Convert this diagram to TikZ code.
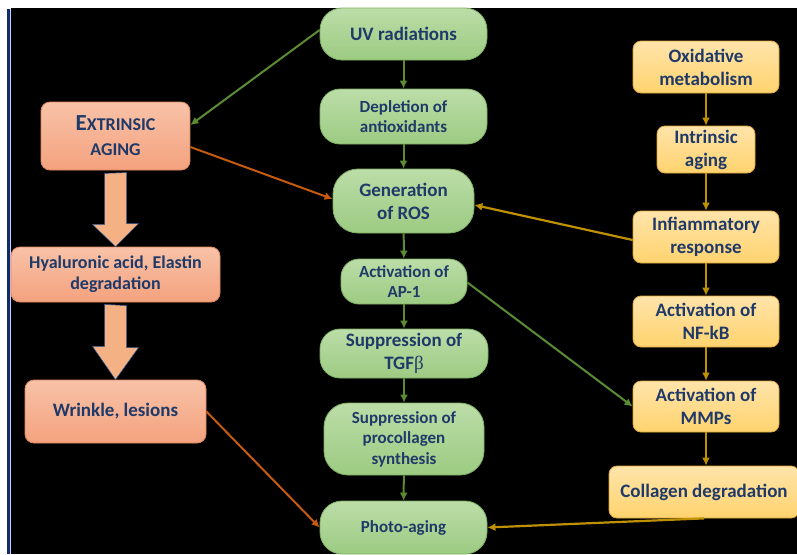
\documentclass[tikz,border=0pt]{standalone}
\usepackage{fontspec}
\setmainfont{Carlito}
\newfontfamily\greekfont{Liberation Serif}
\usetikzlibrary{arrows.meta}

\definecolor{navy}{HTML}{1F3A68}
\definecolor{greenT}{HTML}{BCDDA8}
\definecolor{greenB}{HTML}{9CCB82}
\definecolor{greenD}{HTML}{7FAF63}
\definecolor{orangeT}{HTML}{F8C2A8}
\definecolor{orangeB}{HTML}{F4A27E}
\definecolor{orangeD}{HTML}{DE8860}
\definecolor{yellowT}{HTML}{FFE4AA}
\definecolor{yellowB}{HTML}{FFD36E}
\definecolor{yellowD}{HTML}{DCA73C}
\definecolor{arrgreen}{HTML}{5B8C34}
\definecolor{arrorange}{HTML}{C55A11}
\definecolor{arrgold}{HTML}{BF9000}
\definecolor{blockfill}{HTML}{F4B183}
\definecolor{blockline}{HTML}{2F5597}
\definecolor{stripe}{HTML}{0F2D6B}

\begin{document}
\begin{tikzpicture}[x=1pt, y=-1pt,
  box/.style={inner sep=0pt, align=center, text=navy, line width=0.8pt},
  small/.style={font=\fontsize{17}{20.5}\selectfont\bfseries},
  mid/.style={font=\fontsize{19}{23}\selectfont\bfseries},
  large/.style={font=\fontsize{19}{23}\selectfont\bfseries},
  uvbox/.style={box, draw=greenD, top color=greenT, bottom color=greenB},
  extbox/.style={box, draw=orangeD, top color=orangeT, bottom color=orangeB, rounded corners=9pt},
  intbox/.style={box, draw=yellowD, top color=yellowT, bottom color=yellowB, rounded corners=8pt},
  garrow/.style={-{Latex[length=8pt,width=8pt]}, line width=2pt, arrgreen},
  oarrow/.style={-{Latex[length=8pt,width=8pt]}, line width=2pt, arrorange},
  yarrow/.style={-{Latex[length=8pt,width=8pt]}, line width=2.2pt, arrgold},
  bigarrow/.style={fill=blockfill, draw=blockline, line width=0.5pt}]

\clip (0,0) rectangle (797,554);
\fill[white] (0,0) rectangle (797,554);
\fill[black] (11,8) rectangle (797,554);
\fill[stripe] (7,9) rectangle (10,554);
\fill[blue!20] (10,9) rectangle (11,554);

% UV pathway (middle)
\node[uvbox, large, rounded corners=22pt, minimum width=167pt, minimum height=52pt] (uv) at (403.5,34) {UV radiations};
\node[uvbox, small, rounded corners=20pt, minimum width=167pt, minimum height=55pt] (dep) at (403.5,116.5) {Depletion of\\antioxidants};
\node[uvbox, large, rounded corners=25pt, minimum width=141pt, minimum height=64pt] (ros) at (403.5,201) {Generation\\of ROS};
\node[uvbox, small, rounded corners=18pt, minimum width=126pt, minimum height=45pt] (ap) at (404,281.5) {Activation of\\AP-1};
\node[uvbox, large, rounded corners=20pt, minimum width=168pt, minimum height=49pt] (tgf) at (404,353.5) {Suppression of\\TGF{\greekfont\mdseries β}};
\node[uvbox, small, rounded corners=24pt, minimum width=160pt, minimum height=72pt] (proc) at (404,439) {Suppression of\\procollagen\\synthesis};
\node[uvbox, small, rounded corners=22pt, minimum width=167pt, minimum height=53pt] (photo) at (403.5,527.5) {Photo-aging};

% extrinsic (left)
\node[extbox, font=\fontsize{18}{25}\selectfont\bfseries, minimum width=149pt, minimum height=68pt] (ext) at (115.5,136) {{\fontsize{23}{25}\selectfont E}XTRINSIC\\AGING};
\node[extbox, font=\fontsize{18}{21}\selectfont\bfseries, minimum width=209pt, minimum height=55pt] (hya) at (115.5,274.5) {Hyaluronic acid, Elastin\\degradation};
\node[extbox, mid, minimum width=181pt, minimum height=63pt] (wri) at (115.5,411.5) {Wrinkle, lesions};

% intrinsic (right)
\node[intbox, mid, minimum width=146pt, minimum height=52pt] (oxi) at (706,67) {Oxidative\\metabolism};
\node[intbox, mid, minimum width=98pt, minimum height=47pt] (intr) at (706,149.5) {Intrinsic\\aging};
\node[intbox, mid, minimum width=146pt, minimum height=52pt] (inf) at (706,237) {Infiammatory\\response};
\node[intbox, mid, minimum width=146pt, minimum height=51pt] (nfk) at (706,321.5) {Activation of\\NF-kB};
\node[intbox, mid, minimum width=146pt, minimum height=51pt] (mmp) at (706,406.5) {Activation of\\MMPs};
\node[intbox, mid, minimum width=190pt, minimum height=52pt] (col) at (704,492) {Collagen degradation};

% block arrows
\draw[bigarrow] (ext.south) ++(-11,3) -- ++(0,51) -- ++(-12,0) -- (hya.north) -- ++(23,-23) -- ++(-12,0) -- ++(0,-51) -- cycle;
\draw[bigarrow] (hya.south) ++(-11,2) -- ++(0,42) -- ++(-12,0) -- (wri.north) -- ++(23,-32) -- ++(-12,0) -- ++(0,-42) -- cycle;

% middle column
\foreach \a/\b in {uv/dep, dep/ros, ros/ap, ap/tgf, tgf/proc, proc/photo}
  \draw[garrow] (\a) -- (\b);
% right column
\foreach \a/\b in {oxi/intr, intr/inf, inf/nfk, nfk/mmp, mmp/col}
  \draw[yarrow] (\a.south) -- (\a.south |- \b.north);

% cross links
\draw[garrow] ([yshift=4pt]uv.west) -- ([yshift=11pt]ext.east);
\draw[oarrow] ([yshift=-11pt]ext.east) -- ([yshift=2pt]ros.west);
\draw[yarrow] ([yshift=-3pt]inf.west) -- ([yshift=-4pt]ros.east);
\draw[garrow] ([yshift=-1pt]ap.east) -- (mmp.west);
\draw[oarrow] (wri.east) -- (photo.west);
\draw[yarrow] (col.south) -- (photo.east);

\end{tikzpicture}
\end{document}
